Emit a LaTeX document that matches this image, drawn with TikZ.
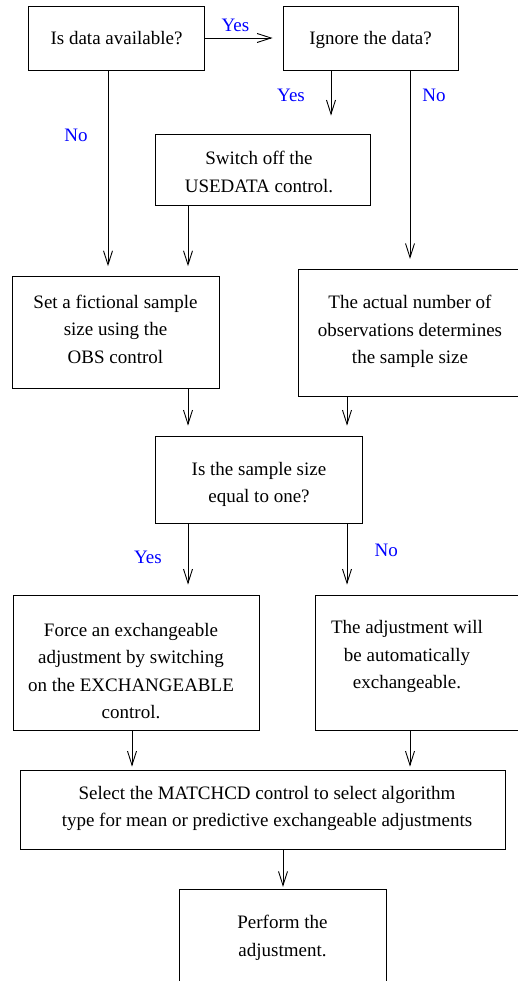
\documentclass[tikz,border=0pt]{standalone}
\usepackage{fontspec}
\setmainfont{Liberation Serif}
\usetikzlibrary{arrows.meta}
\begin{document}
\begin{tikzpicture}[x=1pt,y=-1pt,
  box/.style={draw, line width=0.9pt, inner sep=0pt},
  txt/.style={align=center, inner sep=0pt, font=\fontsize{19}{27.5}\selectfont},
  lbl/.style={inner sep=0pt, text=blue, font=\fontsize{19}{27.5}\selectfont},
  arr/.style={line width=0.9pt, -{Straight Barb[length=14pt,width=9pt]}}]
\useasboundingbox (0,0) rectangle (518,981);
\clip (0,0) rectangle (518,981);

% x positions of connectors
\coordinate (xA) at (108,0);
\coordinate (xL) at (188,0);
\coordinate (xY) at (331,0);
\coordinate (xR) at (410,0);
\coordinate (xM) at (347,0);
\coordinate (xG) at (132,0);
\coordinate (xJ) at (283,0);

% boxes
\node[box, minimum width=176pt, minimum height=64pt]   (A) at (116,38) {};
\node[box, minimum width=175pt, minimum height=64pt]   (B) at (370.5,38) {};
\node[box, minimum width=214.6pt, minimum height=71pt] (C) at (263,169.5) {};
\node[box, minimum width=207pt, minimum height=111.6pt] (D) at (115.8,332.5) {};
\node[box, minimum width=226pt, minimum height=126.7pt] (E) at (411.7,332.7) {};
\node[box, minimum width=206.6pt, minimum height=87.3pt] (F) at (259,479.7) {};
\node[box, minimum width=245.7pt, minimum height=135pt] (G) at (136.2,662.5) {};
\node[box, minimum width=225pt, minimum height=135pt] (H) at (427.5,662.5) {};
\node[box, minimum width=485pt, minimum height=79.3pt] (I) at (263.2,809.7) {};
\node[box, minimum width=207.4pt, minimum height=110pt] (J) at (283,944.3) {};

% texts
\node[txt] (At) at (116.5,39) {\strut Is data available?};
\node[txt] (Bt) at (370.5,39) {\strut Ignore the data?};
\node[txt] (Ct) at (259,173) {\strut Switch off the\\USEDATA control.\strut};
\node[txt] (Dt) at (115.5,330) {\strut Set a fictional sample\\size using the\\OBS control\strut};
\node[txt] (Et) at (410,330.5) {\strut The actual number of\\observations determines\\the sample size\strut};
\node[txt] (Ft) at (259,483.5) {\strut Is the sample size\\equal to one?\strut};
\node[txt] (Gt) at (131,672) {\strut Force an exchangeable\\adjustment by switching\\on the EXCHANGEABLE\\control.\strut};
\node[txt] (Ht) at (407,655.5) {\strut The adjustment will\\be automatically\\exchangeable.\strut};
\node[txt] (It) at (267,807.5) {\strut Select the MATCHCD control to select algorithm\\type for mean or predictive exchangeable adjustments\strut};
\node[txt] (Jt) at (282.5,937) {\strut Perform the\\adjustment.\strut};

% connectors
\draw[arr, shorten >=10pt] (A.east) -- (B.west);
\draw[arr, shorten >=10pt] (A.south -| xA) -- (D.north -| xA);
\draw[arr, shorten >=18pt] (B.south -| xY) -- (C.north -| xY);
\draw[arr, shorten >=10pt] (B.south -| xR) -- (E.north -| xR);
\draw[arr, shorten >=10pt] (C.south -| xL) -- (D.north -| xL);
\draw[arr, shorten >=10pt] (D.south -| xL) -- (F.north -| xL);
\draw[arr, shorten >=10pt] (E.south -| xM) -- (F.north -| xM);
\draw[arr, shorten >=10pt] (F.south -| xL) -- (G.north -| xL);
\draw[arr, shorten >=10pt] (F.south -| xM) -- (H.north -| xM);
\draw[arr, shorten >=3pt]  (G.south -| xG) -- (I.north -| xG);
\draw[arr, shorten >=3pt]  (H.south -| xR) -- (I.north -| xR);
\draw[arr, shorten >=2pt]  (I.south -| xJ) -- (J.north -| xJ);

% labels
\node[lbl] (yes1) at (235.5,26) {\strut Yes};
\node[lbl] (yes2) at (291,96.5) {\strut Yes};
\node[lbl] (no1)  at (434,96.5) {\strut No};
\node[lbl] (no2)  at (76,136.5) {\strut No};
\node[lbl] (yes3) at (148,558) {\strut Yes};
\node[lbl] (no3)  at (386.3,550.5) {\strut No};
\end{tikzpicture}
\end{document}
